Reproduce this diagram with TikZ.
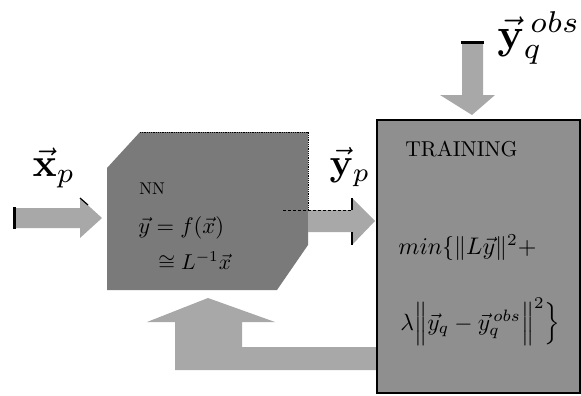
\documentclass[tikz,border=0pt]{standalone}
\usepackage{amsmath}
\begin{document}
\begin{tikzpicture}[x=1pt,y=-1pt,
  nnfill/.style={fill=black!52},
  trfill/.style={fill=black!44},
  arrfill/.style={fill=black!34},
  txt/.style={inner sep=0pt,anchor=base west,font=\normalsize},
  lbl/.style={inner sep=0pt,font=\normalsize}]
\useasboundingbox (0,0) rectangle (581,396);
% --- input arrow x_p
\fill[arrfill] (13,208) -- (80,208) -- (80,198) -- (102,218) -- (80,238) -- (80,228) -- (13,228) -- cycle;
\draw[line width=3pt] (14,207) -- (14,229);
\draw[line width=1.2pt] (80,198) -- (88,205);
% --- NN block
\fill[nnfill] (107,168) -- (140,132) -- (308,132) -- (308,245) -- (277,290) -- (107,290) -- cycle;
\draw[densely dotted,line width=0.8pt] (140,132) -- (308,132) -- (308,210);
% --- y_p arrow
\fill[arrfill] (308,210) -- (352,210) -- (352,198) -- (375,221) -- (352,245) -- (352,232) -- (308,232) -- cycle;
\draw[densely dashed,line width=1pt] (283,210) -- (352,210);
\draw[line width=1.2pt] (352,198) -- (352,210) (352,232) -- (352,245);
% --- top arrow y_q^obs
\fill[arrfill] (462,42) -- (483,42) -- (483,95) -- (495,95) -- (472,115) -- (440,95) -- (462,95) -- cycle;
\draw[line width=3pt] (461,43) -- (484,43);
% --- feedback arrow
\fill[arrfill] (377,347) -- (242,347) -- (242,322) -- (275,322) -- (208,298) -- (147,322) -- (175,322) -- (175,370) -- (377,370) -- cycle;
% --- training box
\filldraw[trfill,draw=black,line width=2pt] (377,120) rectangle (579.5,393);
% --- texts in NN
\node[txt,scale=1.7] (nn) at (139,194) {NN};
\node[txt,scale=2.25] (eq1) at (138,233) {$\vec{y} = f(\vec{x})$};
\node[txt,scale=2.15] (eq2) at (158,269) {$\cong L^{-1}\vec{x}$};
% --- texts in training
\node[txt,scale=2.15] (tr) at (405,156) {TRAINING};
\node[txt,scale=2.4] (m1) at (398,254) {$min\{\|L\vec{y}\|^2 +$};
\node[txt,scale=2.35] (m2) at (400,330) {$\lambda\Big\|\vec{y}_q - \vec{y}_q^{\,obs}\Big\|^2\Big\}$};
% --- labels
\node[lbl,scale=4] (xp) at (54,168) {$\vec{\mathbf{x}}_p$};
\node[lbl,scale=3.8] (yp) at (350,167) {$\vec{\mathbf{y}}_p$};
\node[lbl,scale=4.3] (yq) at (539,38) {$\vec{\mathbf{y}}_q^{\,obs}$};
\end{tikzpicture}
\end{document}
